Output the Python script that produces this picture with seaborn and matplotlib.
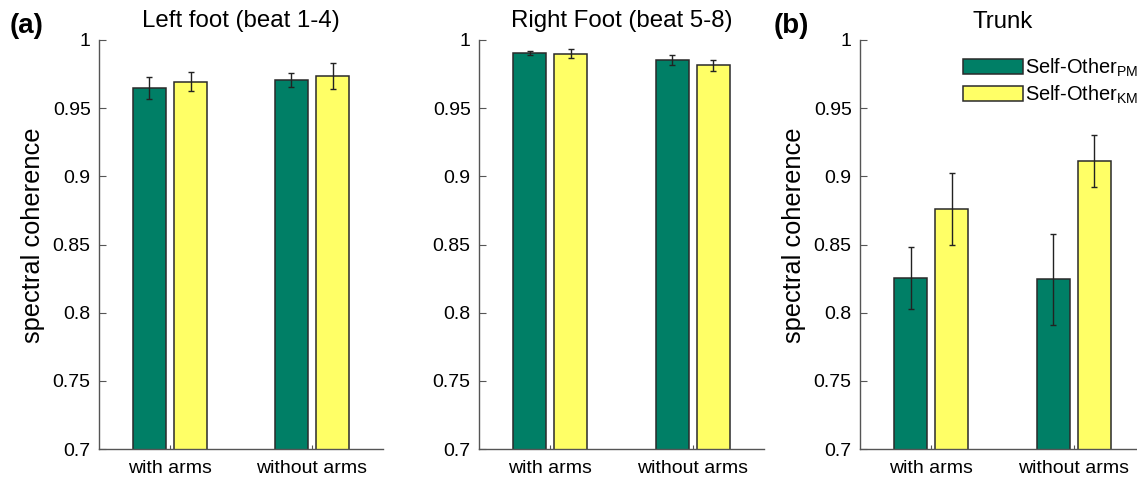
import matplotlib
matplotlib.use("Agg")
import matplotlib.pyplot as plt
import seaborn as sns
import pandas as pd
import numpy as np
from matplotlib.patches import Patch

conditions = ["with arms", "without arms"]
series = ["PM", "KM"]
series_labels = [r"Self-Other$_{\mathrm{PM}}$", r"Self-Other$_{\mathrm{KM}}$"]

left_pm = [0.965, 0.9705]
left_km = [0.9693, 0.9737]
left_pm_err = [0.008, 0.005]
left_km_err = [0.007, 0.0094]

right_pm = [0.9905, 0.9853]
right_km = [0.9898, 0.9814]
right_pm_err = [0.0014, 0.004]
right_km_err = [0.0033, 0.0041]

trunk_pm = [0.8252, 0.8244]
trunk_km = [0.8758, 0.9112]
trunk_pm_err = [0.0226, 0.0335]
trunk_km_err = [0.0264, 0.0193]

titles = ["Left foot (beat 1-4)", "Right Foot (beat 5-8)", "Trunk"]
yticks = [0.7, 0.75, 0.8, 0.85, 0.9, 0.95, 1.0]
ytick_labels = ["0.7", "0.75", "0.8", "0.85", "0.9", "0.95", "1"]

colors = ["#007f66", "#ffff66"]

sns.set_style("white")
plt.rcParams["font.family"] = ["Liberation Sans", "DejaVu Sans"]
plt.rcParams["mathtext.fontset"] = "custom"
plt.rcParams["mathtext.rm"] = "Liberation Sans"
plt.rcParams["mathtext.it"] = "Liberation Sans:italic"
plt.rcParams["text.color"] = "black"
plt.rcParams["axes.labelcolor"] = "black"
plt.rcParams["xtick.labelcolor"] = "black"
plt.rcParams["ytick.labelcolor"] = "black"

fig = plt.figure(figsize=(11.37, 4.78), dpi=100)
W, H = 1137, 478
positions = [(99, 284), (479, 285), (860, 285)]
top, bottom = 40, 449

panels = [
    (left_pm, left_km, left_pm_err, left_km_err),
    (right_pm, right_km, right_pm_err, right_km_err),
    (trunk_pm, trunk_km, trunk_pm_err, trunk_km_err),
]

for i, ((pm, km, pme, kme), (x0, w)) in enumerate(zip(panels, positions)):
    ax = fig.add_axes([x0 / W, (H - bottom) / H, w / W, (bottom - top) / H])
    df = pd.DataFrame({
        "condition": conditions * 2,
        "series": [series[0]] * 2 + [series[1]] * 2,
        "value": pm + km,
        "err": pme + kme,
    })
    sns.barplot(data=df, x="condition", y="value", hue="series", order=conditions,
                hue_order=series, palette=colors, width=0.58, gap=0.2,
                errorbar=None, edgecolor="#2a2a2a", linewidth=1.1, ax=ax,
                legend=False, saturation=1)
    for cont, s in zip(ax.containers, series):
        sub = df[df["series"] == s].set_index("condition").loc[conditions]
        xs = [p.get_x() + p.get_width() / 2 for p in cont.patches]
        ax.errorbar(xs, sub["value"].values, yerr=sub["err"].values, fmt="none",
                    ecolor="#222222", elinewidth=1.0, capsize=2, capthick=1.0, zorder=5)
    ax.set_xlim(-0.5, 1.5)
    ax.set_ylim(0.7, 1.0)
    ax.set_yticks(yticks)
    ax.set_yticklabels(ytick_labels)
    ax.set_xlabel("")
    ax.set_ylabel("spectral coherence" if i != 1 else "", fontsize=18.3)
    ax.yaxis.set_label_coords(-0.19, 0.523)
    ax.set_title(titles[i], fontsize=17.3, pad=9, color="black")
    sns.despine(ax=ax)
    for sp in ["left", "bottom"]:
        ax.spines[sp].set_color("#555555")
        ax.spines[sp].set_linewidth(1.0)
    ax.tick_params(axis="y", direction="in", length=5, width=0.8, color="#555555",
                   labelsize=14, pad=6, left=True)
    ax.tick_params(axis="x", direction="in", length=3, width=0.8, color="#555555",
                   labelsize=14, pad=8, bottom=True)
    if i == 2:
        handles = [Patch(facecolor=c, edgecolor="#2a2a2a", linewidth=1.1) for c in colors]
        ax.legend(handles, series_labels, loc="upper left", bbox_to_anchor=(0.36, 0.96),
                  frameon=False, fontsize=14.4, handlelength=3.0, handleheight=0.8,
                  handletextpad=0.12, labelspacing=0.25, borderaxespad=0,
                  borderpad=0)

fig.text(10 / W, 1 - 26 / H, "(a)", fontsize=20, fontweight="bold", va="center")
fig.text(774 / W, 1 - 26 / H, "(b)", fontsize=20, fontweight="bold", va="center")

fig.savefig("out.png", dpi=100)
